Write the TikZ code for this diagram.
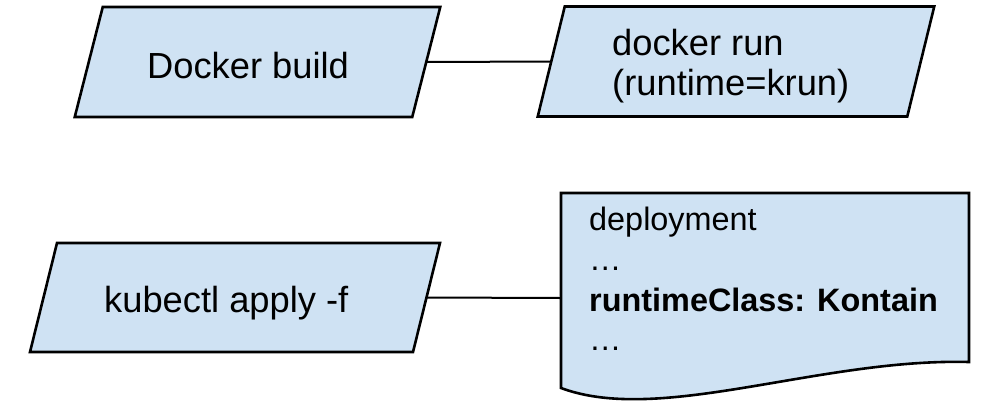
\documentclass[tikz,border=0pt]{standalone}
\usepackage{fontspec}
\setmainfont{Liberation Sans}
\usetikzlibrary{calc}
\definecolor{boxblue}{HTML}{CFE2F3}
\tikzset{
  body/.style={inner sep=0pt, outer sep=0pt, minimum height=110pt},
  shapeline/.style={draw=black, line width=2.6pt, fill=boxblue, line join=miter},
  bigtxt/.style={anchor=base west, inner sep=0pt, font=\fontsize{36.3}{40}\selectfont},
  doctxt/.style={anchor=base west, inner sep=0pt, font=\fontsize{32.4}{40}\selectfont},
  docbox/.style={inner sep=0pt, outer sep=0pt, minimum width=408pt, minimum height=210pt},
  conn/.style={draw=black, line width=2pt}
}
\begin{document}
\begin{tikzpicture}[x=1pt,y=-1pt]
\useasboundingbox (0,0) rectangle (982,408);
% shape bodies (mid-height width)
\node[body, minimum width=337.5pt] (build) at (257.5,62) {};
\node[body, minimum width=369.5pt] (run) at (736,61.5) {};
\node[body, minimum width=383pt, minimum height=109pt] (kube) at (235,297.5) {};
\node[docbox] (doc) at (765,298) {};
% outlines
\path[shapeline] ($(build.north west)+(14,0)$) -- ($(build.north east)+(14,0)$)
  -- ($(build.south east)+(-14,0)$) -- ($(build.south west)+(-14,0)$) -- cycle;
\path[shapeline] ($(run.north west)+(13.5,0)$) -- ($(run.north east)+(13.5,0)$)
  -- ($(run.south east)+(-13.5,0)$) -- ($(run.south west)+(-13.5,0)$) -- cycle;
\path[shapeline] ($(kube.north west)+(13.5,0)$) -- ($(kube.north east)+(13.5,0)$)
  -- ($(kube.south east)+(-13.5,0)$) -- ($(kube.south west)+(-13.5,0)$) -- cycle;
\path[shapeline] (doc.north west) -- (doc.north east) -- ($(doc.south east)+(0,-41)$)
  .. controls ($(doc.south east)+(-149,-45)$) and ($(doc.south west)+(99,22)$) ..
  ($(doc.south west)+(0,-15)$) -- cycle;
% connectors
\draw[conn] (build.east) -- (run.west);
\draw[conn] (kube.east) -- (doc.west);
% texts
\node[bigtxt] (tbuild) at (147,78) {Docker build};
\node[bigtxt] (trun1) at (612,55) {docker run};
\node[bigtxt] (trun2) at (612,95) {(runtime=krun)};
\node[bigtxt] (tkube) at (104,312) {kubectl apply -f};
\node[doctxt] (td1) at (589,230) {deployment};
\node[doctxt] (td2) at (589,270) {…};
\node[doctxt] (td3) at (589,311) {\bfseries runtimeClass: Kontain};
\node[doctxt] (td4) at (589,350) {…};
\end{tikzpicture}
\end{document}
